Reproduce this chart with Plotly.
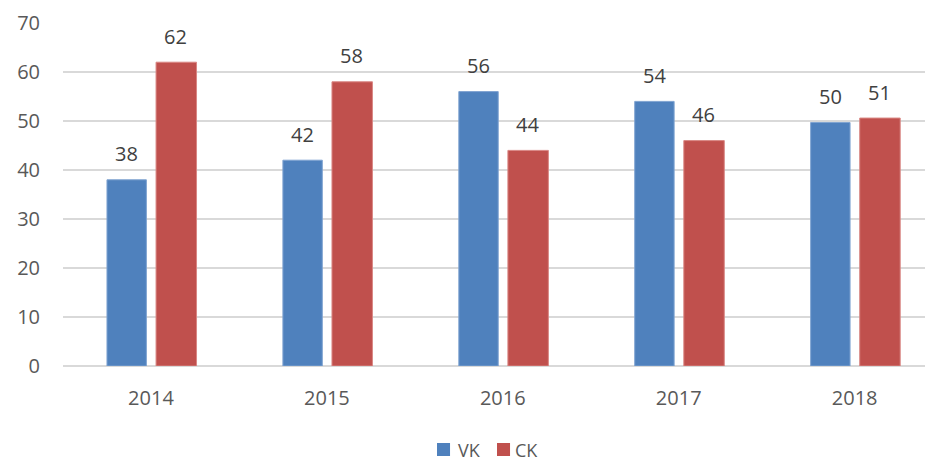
import plotly.graph_objects as go

years = ["2014", "2015", "2016", "2017", "2018"]
vk = [38, 42, 56, 54, 49.7]
ck = [62, 58, 44, 46, 50.6]
vk_labels = ["38", "42", "56", "54", "50"]
ck_labels = ["62", "58", "44", "46", "51"]
y_ticks = [0, 10, 20, 30, 40, 50, 60, 70]
series_names = ["VK", "CK"]

BLUE = "#4F81BD"
RED = "#C0504D"
FONT = "Open Sans"
FS = 20
BAR_W = 0.224
OFF_VK = -0.250
OFF_CK = 0.029

xs = list(range(len(years)))

fig = go.Figure()
fig.add_trace(go.Bar(
    x=xs, y=vk, name=series_names[0], width=BAR_W, offset=OFF_VK,
    marker=dict(color=BLUE, line=dict(color="#7FA3D1", width=1)),
    showlegend=False,
))
fig.add_trace(go.Bar(
    x=xs, y=ck, name=series_names[1], width=BAR_W + 0.006, offset=OFF_CK,
    marker=dict(color=RED, line=dict(color="#D98784", width=1)),
    showlegend=False,
))

for series, labels, off in ((vk, vk_labels, OFF_VK), (ck, ck_labels, OFF_CK)):
    for xi, v, lab in zip(xs, series, labels):
        fig.add_annotation(
            x=xi + off + BAR_W / 2, y=v, text=lab,
            showarrow=False, yshift=26, yanchor="middle", xanchor="center",
            font=dict(family=FONT, size=FS, color="#404040"),
        )

# manual legend (paper coords)
legend_items = [
    (series_names[0], BLUE, 0.4339, 0.4571),
    (series_names[1], RED, 0.5035, 0.5232),
]
for name, col, x0, xt in legend_items:
    fig.add_shape(type="rect", xref="paper", yref="paper",
                  x0=x0, x1=x0 + 0.0151, y0=-0.2624, y1=-0.2245,
                  fillcolor=col, line=dict(width=0))
    fig.add_annotation(xref="paper", yref="paper", x=xt, y=-0.2435,
                       text=name, showarrow=False, xanchor="left", yanchor="middle",
                       borderpad=0,
                       font=dict(family=FONT, size=FS - 2, color="#595959"))

fig.update_layout(
    barmode="overlay",
    width=925, height=462,
    margin=dict(l=63, r=0, t=23, b=96),
    paper_bgcolor="white", plot_bgcolor="white",
    font=dict(family=FONT, size=FS, color="#595959"),
    showlegend=False,
    xaxis=dict(
        range=[-0.5, 4.40], tickmode="array", tickvals=xs, ticktext=years,
        showgrid=False, zeroline=False, showline=False,
        ticks="", ticklabelstandoff=18, fixedrange=True,
    ),
    yaxis=dict(
        range=[0, 70], tickvals=y_ticks, showgrid=True, gridcolor="#D9D9D9",
        gridwidth=1.5, zeroline=True, zerolinecolor="#D9D9D9", zerolinewidth=1.5,
        showline=False, ticks="", ticklabelstandoff=22, fixedrange=True,
    ),
)

fig.write_html(
    "out.html",
    config={"displayModeBar": False, "staticPlot": True},
    post_script="document.body.style.margin='0';document.body.style.overflow='hidden';",
)
